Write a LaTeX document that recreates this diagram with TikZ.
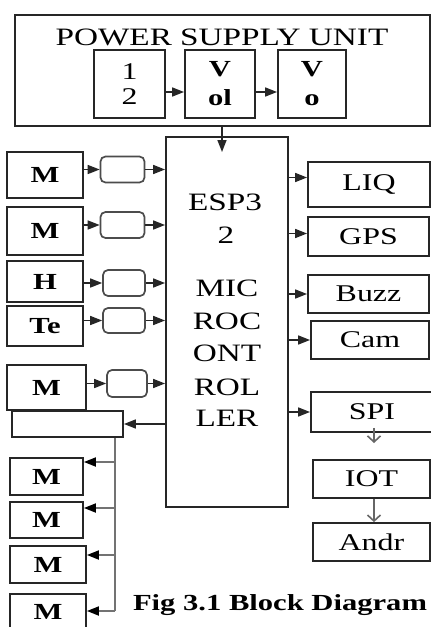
\documentclass[tikz,border=0pt]{standalone}
\usepackage{fontspec}
\setmainfont{Liberation Serif}
\usepackage{graphicx}
\usetikzlibrary{arrows.meta,calc}
\newcommand\hx[1]{\scalebox{1.33}[1]{#1}}
\begin{document}
\begin{tikzpicture}[x=1pt,y=-1pt,
  box/.style={draw=black!85,line width=1.8pt,inner sep=0pt,font=\fontsize{24}{26}\selectfont},
  bbox/.style={box,font=\fontsize{23}{26}\selectfont\bfseries},
  rbox/.style={draw=black!70,line width=1.7pt,rounded corners=5pt,inner sep=0pt,minimum width=44,minimum height=26},
  txt/.style={inner sep=0pt,font=\fontsize{25}{28}\selectfont},
  arr/.style={draw=black!85,line width=1.6pt,-{Triangle[length=12pt,width=9pt]}},
  bus/.style={draw=black!55,line width=2.2pt},
  busarr/.style={draw=black!55,line width=1.8pt,-{Triangle[length=12pt,width=9pt,fill=black,color=black]}},
  barb/.style={draw=black!60,line width=1.6pt,-{Straight Barb[length=6pt,width=13pt]}}]
\useasboundingbox[fill=white] (0,0) rectangle (431,627);
% power supply
\node[box,minimum width=415,minimum height=111] (psu) at (222.5,70.5) {};
\node[txt] (ttl) at (222,37) {\hx{POWER SUPPLY UNIT}};
\node[box,minimum width=71,minimum height=68,align=center,font=\fontsize{24}{25}\selectfont] (p1) at (129.5,84) {\hx{1}\\\hx{2}};
\node[box,minimum width=70,minimum height=68,align=center,font=\fontsize{23}{29}\selectfont\bfseries] (p2) at (220,84) {\hx{V}\\\hx{ol}};
\node[box,minimum width=68,minimum height=68,align=center,font=\fontsize{23}{29}\selectfont\bfseries] (p3) at (312,84) {\hx{V}\\\hx{o}};
\draw[arr] ($(p1.east)+(0,8)$) -- ($(p2.west)+(0,8)$);
\draw[arr] ($(p2.east)+(0,8)$) -- ($(p3.west)+(0,8)$);
% ESP32
\node[box,minimum width=122,minimum height=370] (esp) at (227,322) {};
\coordinate (psuarr) at (222,152);
\draw[arr] (psu.south -| psuarr) -- (psuarr);
\node[txt] (e1) at (225,202) {\hx{ESP3}};
\node[txt] (e2) at (226,235) {\hx{2}};
\node[txt] (e3) at (227,288) {\hx{MIC}};
\node[txt] (e4) at (227,321) {\hx{ROC}};
\node[txt] (e5) at (227,353) {\hx{ONT}};
\node[txt] (e6) at (227,387) {\hx{ROL}};
\node[txt] (e7) at (227,418) {\hx{LER}};
% left inputs
\node[bbox,minimum width=76,minimum height=46] (m1) at (45,175) {\hx{M}};
\node[rbox] (r1) at (122.5,169.5) {};
\node[bbox,minimum width=76,minimum height=48] (m2) at (45,231) {\hx{M}};
\node[rbox] (r2) at (122.5,225) {};
\node[bbox,minimum width=76,minimum height=41] (h) at (45,281.5) {\hx{H}};
\node[rbox,minimum width=42] (r3) at (124,283) {};
\node[bbox,minimum width=76,minimum height=40] (te) at (45,326) {\hx{Te}};
\node[rbox,minimum width=42,minimum height=25] (r4) at (124,320.5) {};
\node[bbox,minimum width=79,minimum height=45] (m5) at (46.5,387.5) {\hx{M}};
\node[rbox,minimum width=40,minimum height=27] (r5) at (127,383.5) {};
\node[box,minimum width=111,minimum height=26] (er) at (67.5,424) {};
\foreach \m/\r in {m1/r1,m2/r2,h/r3,te/r4,m5/r5}{
  \draw[arr] (\m.east |- \r) -- (\r.west);
  \draw[arr] (\r.east) -- (\r.east -| esp.west);
}
\draw[arr] (esp.west |- er) -- (er.east);
% outputs (motors)
\node[bbox,minimum width=73,minimum height=37] (m6) at (46.5,476.5) {\hx{M}};
\node[bbox,minimum width=73,minimum height=36] (m7) at (46.5,520) {\hx{M}};
\node[bbox,minimum width=76,minimum height=37] (m8) at (48,564.5) {\hx{M}};
\node[bbox,minimum width=76,minimum height=36] (m9) at (48,612) {\hx{M}};
\coordinate (b6) at (115,462);
\coordinate (b7) at (115,508);
\coordinate (b8) at (115,555);
\coordinate (b9) at (115,611);
\draw[bus] (er.south -| b9) -- (b9);
\draw[busarr] (b6) -- (b6 -| m6.east);
\draw[busarr] (b7) -- (b7 -| m7.east);
\draw[busarr] (b8) -- (b8 -| m8.east);
\draw[busarr] (b9) -- (b9 -| m9.east);
% right outputs
\node[box,minimum width=122,minimum height=45] (liq) at (369,184.5) {\hx{LIQ}};
\node[box,minimum width=121,minimum height=39] (gps) at (368.5,236.5) {\hx{GPS}};
\node[box,minimum width=121,minimum height=38] (buzz) at (368.5,294) {\hx{Buzz}};
\node[box,minimum width=118,minimum height=38] (cam) at (370,340) {\hx{Cam}};
\node[box,minimum width=122,minimum height=40] (spi) at (372,412) {\hx{SPI}};
\node[box,minimum width=117,minimum height=38] (iot) at (371.5,479) {\hx{IOT}};
\node[box,minimum width=117,minimum height=38] (andr) at (371.5,542) {\hx{Andr}};
\draw[arr] ($(esp.east |- liq.west)+(0,-7)$) -- ($(liq.west)+(0,-7)$);
\draw[arr] ($(esp.east |- gps.west)+(0,-3)$) -- ($(gps.west)+(0,-3)$);
\draw[arr] (esp.east |- buzz.west) -- (buzz.west);
\draw[arr] (esp.east |- cam.west) -- (cam.west);
\draw[arr] (esp.east |- spi.west) -- (spi.west);
\coordinate (spiarr) at (374,443);
\draw[barb] ($(spi.south -| spiarr)+(0,-5)$) -- (spiarr);
\draw[barb] (iot.south -| spiarr) -- (andr.north -| spiarr);
% caption
\node[inner sep=0pt,font=\fontsize{23}{26}\selectfont\bfseries] (cap) at (280,605) {\hx{Fig 3.1 Block Diagram}};
\end{tikzpicture}
\end{document}
